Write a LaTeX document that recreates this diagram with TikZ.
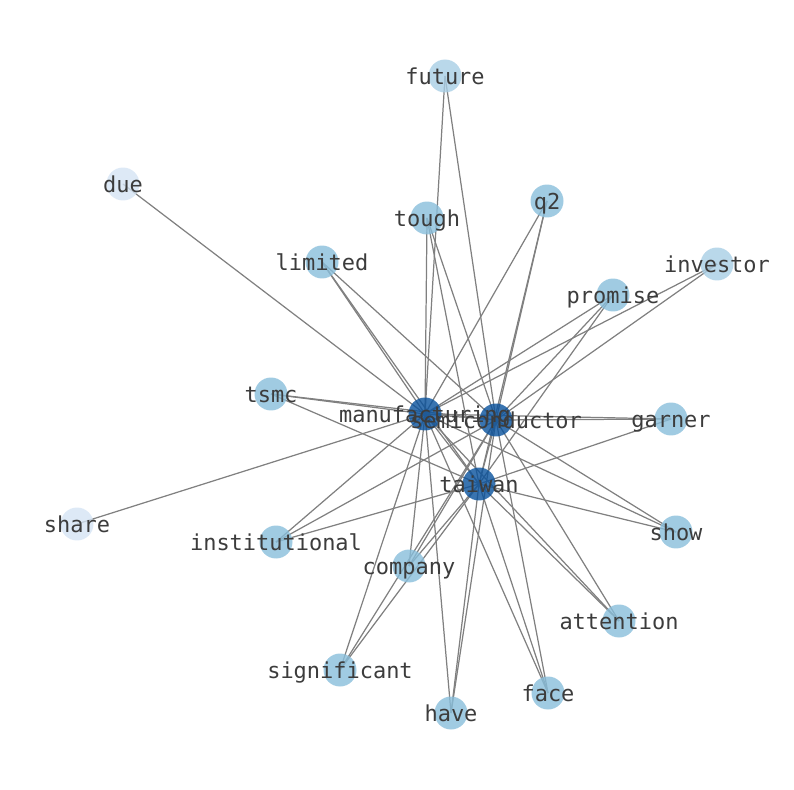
\documentclass[tikz,border=0pt]{standalone}
\usepackage{fontspec}
\newfontfamily\labelfont{DejaVu Sans Mono}
\usepackage{tikz}
\usetikzlibrary{positioning}
\definecolor{hubblue}{RGB}{8,81,156}
\definecolor{midblue}{RGB}{136,190,219}
\definecolor{lowblue}{RGB}{168,206,229}
\definecolor{leafblue}{RGB}{212,228,244}
\definecolor{edgegray}{RGB}{128,128,128}
\definecolor{textgray}{RGB}{60,60,60}
\pgfdeclarelayer{edges}
\pgfdeclarelayer{dots}
\pgfsetlayers{edges,dots,main}

\begin{document}
\begin{tikzpicture}[x=0.02cm, y=-0.02cm,
	word/.style={inner sep=0pt, text height=11pt, text depth=1.4pt, text=textgray, font=\labelfont\fontsize{12.5}{15}\selectfont},
	link/.style={edgegray, line width=0.7pt},
	dot/.style={fill=#1, fill opacity=0.8}]

\def \xr{0.33cm} % dot radius

\useasboundingbox (0,0) rectangle (794,790);

% words (node text sits on the dot centre)
\foreach \n/\x/\y/\w in {
	man/425/414/manufacturing, semi/496/420/semiconductor, tai/479/484/taiwan,
	future/445/76/future, due/123/184/due, q2/547/201/q2, tough/427/218/tough,
	limited/322/262/limited, investor/717/264/investor, promise/613/295/promise,
	tsmc/271/394/tsmc, garner/671/419/garner, share/77/524/share,
	inst/276/542/institutional, show/676/532/show, company/409/566/company,
	attention/619/621/attention, significant/340/670/significant,
	face/548/693/face, have/451/713/have} {
	\node[word] (\n) at (\x, \y) {\w};
}

% dots, coloured by degree
\begin{pgfonlayer}{dots}
\foreach \n in {man, semi, tai}
	\fill[dot=hubblue] (\n.center) circle (\xr);
\foreach \n in {q2, tough, limited, promise, tsmc, garner, inst, show, company, attention, significant, face, have}
	\fill[dot=midblue] (\n.center) circle (\xr);
\foreach \n in {future, investor}
	\fill[dot=lowblue] (\n.center) circle (\xr);
\foreach \n in {due, share}
	\fill[dot=leafblue] (\n.center) circle (\xr);
\end{pgfonlayer}

% edges
\begin{pgfonlayer}{edges}
\foreach \a in {man, semi, tai} {
	\foreach \b in {q2, tough, limited, promise, tsmc, garner, inst, show, company, attention, significant, face, have} {
		\draw[link] (\a.center) -- (\b.center);
	}
}
\foreach \b in {future, investor} {
	\draw[link] (man.center) -- (\b.center);
	\draw[link] (semi.center) -- (\b.center);
}
\draw[link] (man.center) -- (due.center);
\draw[link] (man.center) -- (share.center);
\draw[link] (man.center) -- (semi.center) -- (tai.center) -- (man.center); % hub triangle
\end{pgfonlayer}

\end{tikzpicture}
\end{document}
